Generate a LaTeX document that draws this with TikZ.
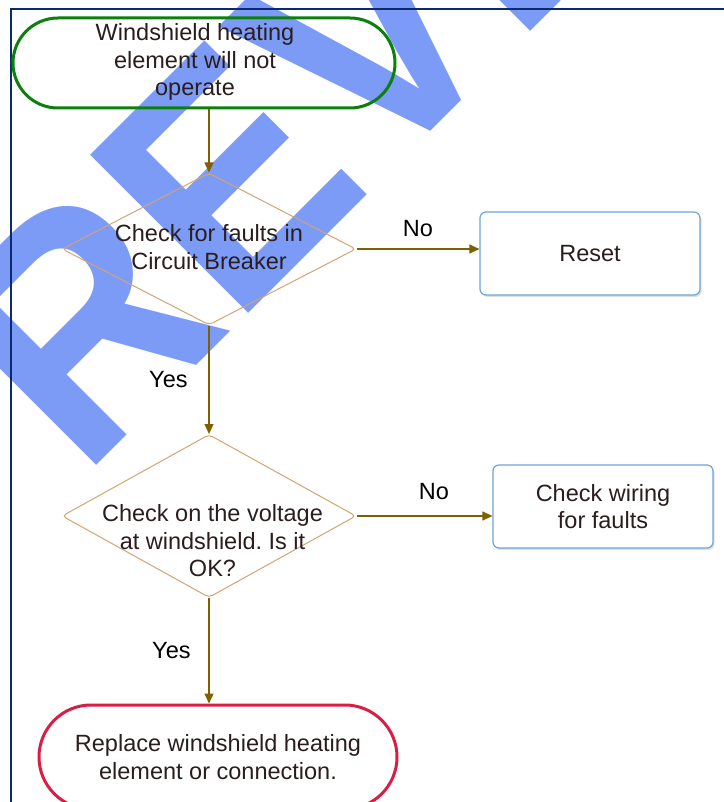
\documentclass[tikz,border=0pt]{standalone}
\usepackage{fontspec}
\setmainfont{Liberation Sans}
\usetikzlibrary{arrows.meta,shapes.geometric,shadows}
\definecolor{wmblue}{HTML}{7B9BF7}
\definecolor{framenavy}{HTML}{0B2A6F}
\definecolor{startgreen}{HTML}{0B800B}
\definecolor{endred}{HTML}{D81E45}
\definecolor{diamondtan}{HTML}{D4A373}
\definecolor{boxblue}{HTML}{6FA3DC}
\definecolor{flowline}{HTML}{7F6000}
\definecolor{txtbrown}{HTML}{2B1D1D}
\def\flowfont{\fontsize{23.5}{27.5}\selectfont}
\def\wmfont{\fontsize{325}{325}\selectfont\bfseries}
\frenchspacing

\begin{document}
\begin{tikzpicture}[x=1pt,y=1pt,>={Triangle[length=10pt,width=9pt]},font=\flowfont,
    terminal/.style={rectangle,line width=3pt,inner sep=0pt},
    decision/.style={diamond,draw=diamondtan,line width=1pt,rounded corners=4pt,minimum width=294pt,inner sep=0pt},
    process/.style={rectangle,draw=boxblue,fill=white,line width=1.2pt,rounded corners=6pt,minimum width=220pt,minimum height=83pt,align=center,text=txtbrown,drop shadow={shadow xshift=1.5pt,shadow yshift=-2pt,opacity=0.25}},
    label/.style={align=center,text=txtbrown},
    flow/.style={flowline,line width=1.2pt}]

    \useasboundingbox (0,0) rectangle (723,-802);

    % watermark
    \node[rotate=45,anchor=base west,inner sep=0pt,text=wmblue] (wm) at (-59,-621) {\scalebox{0.92}[1]{\wmfont PREVIEW}};

    % frame
    \draw[framenavy,line width=2pt] (11,-830) -- (11,-9.5) -- (740,-9.5);

    \node[terminal,draw=startgreen,rounded corners=45pt,minimum width=382pt,minimum height=90pt] (start) at (204,-63) {};
    \node[label,xshift=-9pt,yshift=1pt] (starttxt) at (start) {Windshield heating\\element will not\\operate};

    \node[decision,minimum height=152pt,below of=start,node distance=186pt,xshift=5pt] (chk1) {};
    \node[label,yshift=2pt] (chk1txt) at (chk1) {Check for faults in\\Circuit Breaker};
    \draw[<-,flow] (chk1.north) to (chk1.north |- start.south);

    \node[process,right of=chk1,node distance=381pt,yshift=-4.5pt] (reset) {Reset};
    \draw[<-,flow] (chk1.east -| reset.west) to node[above,yshift=8pt,text=black] {No} (chk1.east);

    \node[decision,minimum height=163pt,below of=chk1,node distance=267pt] (chk2) {};
    \node[label,xshift=3.5pt,yshift=-25pt] (chk2txt) at (chk2) {Check on the voltage\\at windshield. Is it\\OK?};
    \draw[<-,flow] (chk2.north) to node[left,xshift=-17.5pt,text=black] {Yes} (chk1.south);

    \node[process,right of=chk2,node distance=394pt,yshift=9.5pt] (wiring) {Check wiring\\for faults};
    \draw[<-,flow] (chk2.east -| wiring.west) to node[above,xshift=9.5pt,yshift=12pt,text=black] {No} (chk2.east);

    \node[terminal,draw=endred,rounded corners=52pt,minimum width=358pt,minimum height=104pt,below of=chk2,node distance=241pt,xshift=9pt] (fin) {};
    \node[label] (fintxt) at (fin) {Replace windshield heating\\element or connection.};
    \draw[<-,flow] (chk2.south |- fin.north) to node[left,xshift=-14.5pt,text=black] {Yes} (chk2.south);

\end{tikzpicture}
\end{document}
